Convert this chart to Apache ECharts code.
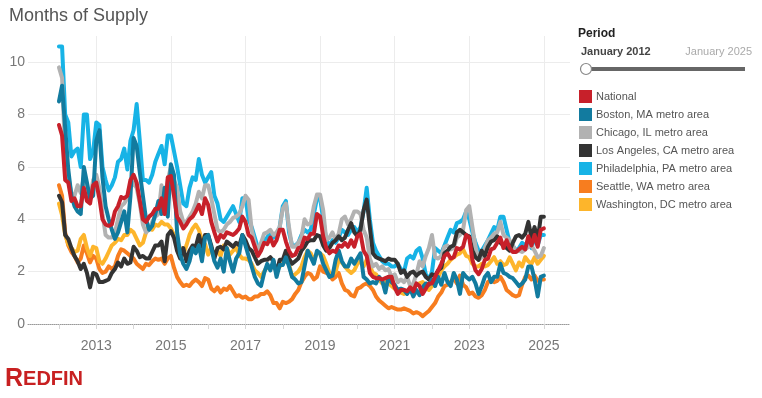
<!DOCTYPE html>
<html>
<head>
<meta charset="utf-8">
<title>Months of Supply</title>
<script src="https://cdn.jsdelivr.net/npm/echarts@6/dist/echarts.min.js"></script>
<style>
  html, body { margin: 0; padding: 0; background: #fff; }
  #chart { width: 762px; height: 398px; }
</style>
</head>
<body>
<div id="chart"></div>
<script>
// monthly values, Jan 2012 .. Jan 2025 (one row per year)
const startYear = 2012;
const yearLabels = [2013, 2015, 2017, 2019, 2021, 2023, 2025];
const yearTicks = [2012, 2013, 2014, 2015, 2016, 2017, 2018, 2019, 2020, 2021, 2022, 2023, 2024, 2025];

const national = [
  7.6, 7.2, 5.5, 5.4, 4.7, 4.8, 4.5, 4.5, 5.2, 4.7, 4.6, 5.3,
  5.4, 4.8, 4.0, 3.8, 3.75, 3.8, 4.3, 4.5, 4.85, 4.8, 4.9, 5.5,
  5.7, 5.4, 4.7, 4.0, 3.9, 4.1, 4.2, 4.4, 4.4, 4.8, 4.2, 5.6,
  5.65, 4.9, 4.1, 3.9, 3.65, 3.8, 4.0, 4.1, 4.3, 4.55, 4.2, 4.8,
  4.55, 3.9, 3.5, 3.15, 3.4, 3.3, 3.5, 3.45, 3.4, 3.5, 3.65, 4.1,
  3.9, 3.4, 3.3, 2.95, 2.6, 2.8, 3.1, 3.05, 3.3, 3.0, 3.2, 3.6,
  3.6, 3.15, 2.8, 2.6, 2.65, 2.9, 2.95, 3.3, 3.25, 3.45, 3.45, 4.2,
  4.1, 3.35, 2.9, 2.7, 2.8, 2.75, 3.0, 2.95, 3.1, 2.95, 3.2, 2.95,
  3.35, 3.45, 2.8, 2.6, 1.95, 1.8, 1.75, 1.75, 1.7, 1.75, 1.8, 1.8,
  1.4, 1.15, 1.3, 1.3, 1.25, 1.4, 1.25, 1.55, 1.45, 1.15, 1.35, 1.55,
  1.55, 1.8, 2.05, 2.3, 2.6, 2.7, 2.5, 2.55, 2.9, 2.85, 2.95, 3.4,
  3.3, 2.45, 2.05, 1.9, 2.1, 2.45, 2.5, 2.85, 2.9, 3.1, 3.3, 2.9,
  3.2, 2.9, 2.75, 2.75, 2.85, 2.95, 2.85, 3.35, 3.0, 3.4, 2.95, 3.6,
  3.65
];
const boston = [
  8.5, 9.1, 7.5, 5.9, 4.9, 4.5, 4.3, 4.2, 6.0, 5.4, 4.8, 4.9,
  7.0, 7.4, 5.6, 4.5, 4.0, 3.6, 3.25, 3.5, 3.9, 4.3, 3.5, 4.9,
  7.1, 6.8, 5.8, 4.9, 4.0, 3.6, 3.75, 4.2, 4.7, 4.2, 5.2, 4.1,
  6.1, 5.7, 3.5, 2.65, 2.3, 2.1, 2.4, 2.9, 2.7, 3.0, 2.4, 3.3,
  3.4, 2.9, 2.4, 2.15, 2.5, 2.0, 2.9, 2.4, 2.0, 2.5, 2.7, 3.4,
  3.0, 2.6, 2.2, 1.8, 1.55, 1.45, 1.95, 2.3, 2.05, 2.45, 1.8, 2.25,
  2.25, 2.55, 2.2, 1.8, 1.7, 1.55, 1.6, 2.2, 2.8, 2.55, 2.3, 2.8,
  2.7, 2.3, 2.05, 1.8, 1.85, 2.45, 2.8, 2.4, 2.2, 2.2, 2.5, 2.3,
  2.5, 2.7, 1.8, 1.7, 1.55, 1.6, 1.55, 1.8, 1.65, 1.2, 1.8, 1.6,
  1.5, 1.3, 1.35, 1.3, 1.15, 1.35, 1.05, 1.3, 1.1, 1.4, 1.55, 1.5,
  1.7, 1.45, 1.8, 1.5, 1.95, 1.6, 1.45, 1.95, 1.7, 1.15, 1.95, 1.8,
  1.7, 1.8, 1.55, 1.15, 1.45, 1.8, 1.95, 1.6, 1.8, 1.8, 2.3, 1.95,
  1.9, 1.8, 1.75, 1.6, 1.45, 1.55, 1.7, 2.2, 2.2, 1.7, 1.05, 1.8,
  1.85
];
const chicago = [
  9.8, 9.4, 6.5, 5.6, 5.0, 4.9, 5.3, 5.0, 5.6, 5.0, 4.8, 5.5,
  5.7, 5.2, 4.2, 3.4, 3.3, 3.3, 3.5, 4.0, 4.5, 4.6, 4.8, 5.2,
  5.4, 5.2, 4.6, 3.8, 3.5, 3.6, 3.9, 4.1, 4.2, 5.3, 4.4, 5.5,
  6.0, 5.5, 5.2, 4.3, 3.9, 3.9, 4.1, 4.3, 4.6, 5.05, 4.8, 5.3,
  5.3, 4.8, 4.2, 3.6, 3.5, 3.6, 3.8, 3.9, 4.05, 4.1, 4.2, 4.5,
  4.9, 4.75, 3.6, 3.1, 2.8, 3.1, 3.45, 3.5, 3.6, 3.4, 3.5, 3.7,
  4.4, 4.6, 3.7, 2.95, 2.95, 3.1, 3.3, 4.0, 3.8, 3.85, 4.5, 4.95,
  4.95, 4.35, 3.2, 3.3, 3.5, 3.2, 3.45, 4.0, 4.1, 3.8, 4.0, 4.3,
  4.3, 4.2, 3.6, 3.3, 2.5, 2.2, 2.3, 2.1, 2.2, 2.05, 2.1, 1.8,
  1.9, 1.6, 1.7, 1.6, 1.8, 1.45, 1.55, 1.9, 2.4, 2.2, 2.6, 2.9,
  3.4, 2.55, 2.5, 2.6, 2.95, 3.0, 2.85, 2.9, 3.3, 3.4, 3.6, 4.35,
  4.5, 3.7, 2.95, 2.45, 2.55, 2.9, 3.2, 3.3, 3.45, 3.5, 3.9, 3.4,
  3.3, 3.2, 3.0, 2.75, 2.8, 2.75, 2.85, 2.95, 3.0, 2.8, 2.55, 2.6,
  2.9
];
const losAngeles = [
  4.9, 4.65, 3.4, 3.25, 2.9, 2.6, 2.4, 2.1, 2.3, 1.95, 1.4, 1.95,
  1.9, 1.6, 1.6, 1.65, 1.7, 1.95, 2.1, 2.35, 2.2, 2.5, 2.3, 2.35,
  2.95, 2.8, 2.55, 2.6, 2.5, 2.5, 2.75, 3.0, 3.0, 3.15, 2.4, 3.4,
  3.55, 3.3, 2.8, 2.5, 2.9, 2.4, 2.8, 3.0, 2.95, 3.4, 2.95, 3.4,
  3.4, 3.0, 2.5, 2.9, 2.95, 2.85, 3.15, 3.05, 2.95, 3.1, 3.0, 3.4,
  3.2, 2.9, 2.8, 2.55, 2.3, 2.4, 2.45, 2.45, 2.55, 2.4, 1.95, 2.45,
  2.45, 2.8, 2.5, 2.3, 2.4, 2.5, 2.8, 2.95, 3.15, 3.2, 3.2, 3.4,
  3.35, 3.0, 2.8, 2.9, 3.1, 3.2, 3.35, 3.2, 3.3, 3.6, 3.85, 3.5,
  3.35, 3.6, 4.35, 4.75, 3.7, 2.7, 2.55, 2.5, 2.45, 2.4, 2.5, 2.45,
  2.45, 2.3, 1.95, 2.05, 1.8, 1.95, 2.0, 1.85, 1.95, 2.0, 1.8, 1.7,
  1.9, 1.85, 2.05, 2.15, 2.7, 2.8, 2.95, 3.0, 3.5, 3.6, 3.5, 3.4,
  3.35, 2.8, 2.55, 2.45, 2.8, 2.6, 2.95, 3.15, 3.2, 3.35, 3.1, 3.0,
  2.9, 2.8, 3.1, 3.35, 3.4, 3.3, 3.45, 3.9, 3.3, 3.7, 3.2, 4.1,
  4.1
];
const philadelphia = [
  10.6, 10.6, 8.0, 7.7, 6.4, 6.6, 6.7, 6.0, 8.0, 8.0, 6.3, 6.6,
  7.7, 7.6, 6.0, 5.5, 5.1, 5.3, 5.6, 6.2, 6.3, 6.7, 5.9, 7.0,
  7.4, 8.4, 7.0, 5.5, 5.5, 5.4, 5.7, 6.2, 6.5, 6.8, 6.1, 7.2,
  7.2, 6.6, 6.0, 5.3, 4.6, 4.5, 5.2, 5.6, 5.5, 6.3, 5.7, 5.4,
  5.6, 5.8, 4.9, 4.6, 4.0, 3.9, 4.1, 4.3, 4.5, 4.2, 3.9, 4.8,
  4.8, 4.0, 3.7, 3.3, 2.9, 3.0, 3.2, 3.3, 3.5, 3.3, 3.4, 3.7,
  4.5, 4.7, 3.5, 3.0, 3.0, 3.1, 3.4, 3.6, 3.5, 3.6, 4.2, 4.8,
  4.8, 4.0, 3.2, 3.0, 3.2, 3.1, 3.3, 3.6, 3.5, 3.4, 3.6, 3.7,
  3.5, 3.7, 4.3, 5.2, 4.0, 3.1, 2.8, 2.6, 2.4, 2.3, 2.3, 2.2,
  2.2, 2.3, 2.1, 2.0, 2.5, 2.6, 2.5, 2.8, 2.9, 2.5, 1.9, 1.7,
  2.0, 2.9, 2.8, 2.7, 3.0, 3.3, 3.6, 3.5, 3.85, 3.9, 4.0, 4.3,
  4.0, 3.5, 3.1, 2.8, 2.8, 3.0, 3.2, 3.45, 3.7, 3.6, 4.1, 4.1,
  3.6, 3.1, 3.0, 2.8, 2.9, 3.1, 3.0, 3.2, 2.9, 3.3, 3.0, 3.4,
  3.4
];
const seattle = [
  5.3, 4.9, 3.5, 3.0, 2.75, 2.6, 2.35, 2.5, 3.0, 2.7, 2.35, 2.6,
  2.5, 2.1, 1.95, 2.0, 2.2, 2.1, 2.2, 2.6, 2.85, 2.8, 2.7, 2.6,
  2.5, 2.3, 2.2, 2.1, 2.3, 2.25, 2.4, 2.5, 2.45, 2.5, 2.3, 2.5,
  2.6, 2.15, 1.8, 1.6, 1.45, 1.5, 1.45, 1.6, 1.7, 1.6, 1.45, 1.75,
  1.7, 1.35, 1.25, 1.4, 1.2, 1.35, 1.3, 1.45, 1.25, 1.05, 1.1, 1.0,
  1.05, 0.95, 0.95, 1.05, 1.05, 1.15, 1.15, 1.25, 1.1, 0.8, 0.8, 0.6,
  0.85, 0.8, 0.85, 0.95, 1.15, 1.3, 1.6, 1.8, 1.95, 1.9, 1.7, 1.8,
  2.2, 2.0, 1.95, 1.9, 1.7, 1.8, 1.95, 1.55, 1.3, 1.25, 1.1, 1.05,
  1.35, 1.4, 1.5, 1.55, 1.45, 1.3, 1.05, 0.9, 0.8, 0.7, 0.6, 0.65,
  0.6, 0.55, 0.55, 0.6, 0.55, 0.5, 0.4, 0.45, 0.4, 0.3, 0.4, 0.5,
  0.65, 0.8, 1.05, 1.2, 1.45, 1.5, 1.6, 1.75, 1.55, 1.85, 1.5, 1.4,
  1.15, 1.2, 1.05, 1.0, 1.1, 1.3, 1.6, 1.7, 1.6, 1.65, 1.8, 1.6,
  1.3, 1.2, 1.1, 1.05, 1.1, 1.5, 1.8, 1.85, 1.7, 1.85, 1.65, 1.7,
  1.7
];
const washington = [
  4.6, 4.15, 3.4, 3.05, 2.9, 2.75, 2.8, 3.25, 3.4, 2.9, 2.6, 2.95,
  2.9, 2.4, 2.3, 2.5, 2.75, 3.0, 3.1, 3.25, 3.2, 3.4, 3.4, 3.6,
  3.5, 3.25, 3.0, 3.1, 3.5, 3.75, 3.6, 3.8, 3.75, 3.9, 3.8, 3.8,
  3.65, 3.4, 3.15, 2.9, 2.65, 3.0, 3.4, 3.65, 3.8, 3.6, 3.2, 3.05,
  2.65, 2.9, 2.65, 2.8, 2.6, 3.0, 2.9, 2.65, 2.8, 2.9, 2.65, 2.5,
  2.5, 2.45, 2.3, 2.05, 1.95, 1.8, 2.0, 2.2, 2.1, 2.3, 2.0, 2.2,
  2.3, 2.45, 2.3, 1.8, 1.9, 2.0, 2.2, 2.55, 2.8, 2.7, 2.45, 2.7,
  2.7, 2.6, 2.3, 1.95, 1.9, 2.0, 2.45, 2.35, 2.2, 2.05, 1.95, 2.05,
  2.3, 2.4, 2.2, 2.45, 2.2, 1.95, 1.9, 1.7, 1.55, 1.6, 1.55, 1.45,
  1.35, 1.3, 1.2, 1.15, 1.25, 1.3, 1.4, 1.5, 1.55, 1.6, 1.45, 1.3,
  1.45, 1.7, 1.8, 2.05, 2.2, 2.3, 2.45, 2.55, 2.65, 2.7, 2.85, 2.6,
  2.55, 2.3, 2.2, 2.2, 2.3, 2.2, 2.25, 2.4, 2.55, 2.3, 2.4, 2.25,
  2.3, 2.55, 2.3, 2.05, 2.35, 2.2, 2.55, 2.4, 2.3, 2.55, 2.3, 2.45,
  2.6
];

const FONT = 'Arial, "Liberation Sans", sans-serif';

// month index -> decimal year on the x axis
function toPoints(values) {
  return values.map((v, i) => [startYear + i / 12, v]);
}

function lineSeries(name, color, values) {
  return {
    name: name,
    type: 'line',
    data: toPoints(values),
    showSymbol: false,
    symbol: 'none',
    color: color,
    lineStyle: { width: 4, color: color, join: 'round', cap: 'round' },
    emphasis: { disabled: true }
  };
}

const chart = echarts.init(document.getElementById('chart'));

const option = {
  animation: false,
  backgroundColor: '#fff',
  textStyle: { fontFamily: FONT },
  title: {
    text: 'Months of Supply',
    left: 4,
    top: 2,
    textStyle: { fontSize: 18, fontWeight: 'normal', color: '#555', fontFamily: FONT }
  },
  legend: {
    orient: 'vertical',
    left: 579,
    top: 90,
    padding: 0,
    itemWidth: 13,
    itemHeight: 13,
    itemGap: 5,
    icon: 'rect',
    selectedMode: false,
    data: [
      'National',
      'Boston, MA metro area',
      'Chicago, IL metro area',
      'Los Angeles, CA metro area',
      'Philadelphia, PA metro area',
      'Seattle, WA metro area',
      'Washington, DC metro area'
    ],
    textStyle: { fontSize: 11, color: '#555', fontFamily: FONT, padding: [0, 0, 0, -1] }
  },
  grid: { left: 28, right: 192, top: 36, bottom: 74 },
  xAxis: [{
    type: 'value',
    min: 2011.17,
    max: 2025.7,
    axisLine: { show: true, lineStyle: { color: '#999', type: 'dotted', width: 1 } },
    axisTick: { show: false, customValues: yearLabels },
    axisLabel: {
      customValues: yearLabels,
      color: '#777',
      fontSize: 14,
      margin: 15,
      fontFamily: FONT,
      formatter: v => String(Math.round(v))
    },
    splitLine: { show: true, lineStyle: { color: '#ececec', width: 1 } }
  }, {
    type: 'value',
    position: 'bottom',
    min: 2011.17,
    max: 2025.7,
    axisLine: { show: false },
    axisLabel: { show: false },
    splitLine: { show: false },
    axisTick: { show: true, inside: false, length: 5, customValues: yearTicks, lineStyle: { color: '#d6d6d6' } }
  }],
  yAxis: {
    type: 'value',
    min: 0,
    max: 11,
    interval: 2,
    axisLine: { show: false },
    axisTick: { show: false },
    axisLabel: { color: '#777', fontSize: 14, margin: 3, showMaxLabel: false, fontFamily: FONT },
    splitLine: { show: true, showMaxLine: false, showMinLine: false, lineStyle: { color: '#ececec', width: 1 } }
  },
  series: [
    lineSeries('Seattle, WA metro area', '#f77d1f', seattle),
    lineSeries('Washington, DC metro area', '#fdb52b', washington),
    lineSeries('Philadelphia, PA metro area', '#17b3e6', philadelphia),
    lineSeries('Chicago, IL metro area', '#b2b2b2', chicago),
    lineSeries('Los Angeles, CA metro area', '#333333', losAngeles),
    lineSeries('Boston, MA metro area', '#127b9f', boston),
    lineSeries('National', '#c7202a', national)
  ],
  graphic: [
    { type: 'text', left: 578, top: 28, style: { text: 'Period', font: 'bold 12px ' + FONT, fill: '#222' } },
    { type: 'text', left: 581, top: 46, style: { text: 'January 2012', font: 'bold 11px ' + FONT, fill: '#444' } },
    { type: 'text', right: 10, top: 46, style: { text: 'January 2025', font: '11px ' + FONT, fill: '#aaa', align: 'right' } },
    { type: 'line', shape: { x1: 588, y1: 69, x2: 745, y2: 69 }, style: { stroke: '#666', lineWidth: 4 } },
    { type: 'circle', shape: { cx: 586, cy: 69, r: 5.5 }, style: { fill: '#fff', stroke: '#888', lineWidth: 1.2 } },
    {
      type: 'text', left: 5, top: 367,
      style: {
        text: '{a|R}{b|EDFIN}',
        rich: {
          a: { font: 'bold 25px ' + FONT, fill: '#c82021' },
          b: { font: 'bold 20px ' + FONT, fill: '#c82021' }
        }
      }
    }
  ]
};

chart.setOption(option);
</script>
</body>
</html>
